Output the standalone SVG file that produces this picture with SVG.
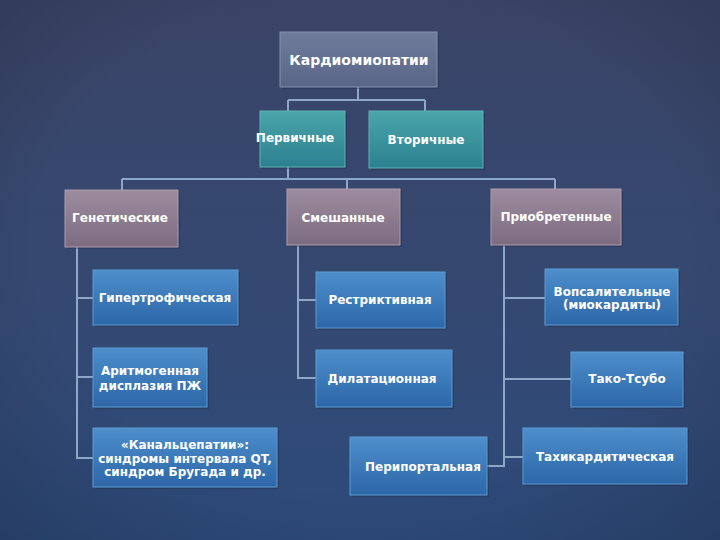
<svg xmlns="http://www.w3.org/2000/svg" width="720" height="540" viewBox="0 0 720 540">
<defs>
<linearGradient id="bg" x1="0" y1="0" x2="0" y2="1">
<stop offset="0" stop-color="#3a4467"/>
<stop offset="0.5" stop-color="#354870"/>
<stop offset="1" stop-color="#2e4b7b"/>
</linearGradient>
<radialGradient id="vig" cx="0.5" cy="0.45" r="0.75">
<stop offset="0.6" stop-color="#000" stop-opacity="0"/>
<stop offset="1" stop-color="#000" stop-opacity="0.18"/>
</radialGradient>
<linearGradient id="gRoot" x1="0" y1="0" x2="0" y2="1">
<stop offset="0" stop-color="#6f7c9c"/>
<stop offset="1" stop-color="#5a6688"/>
</linearGradient>
<linearGradient id="gTeal" x1="0" y1="0" x2="0" y2="1">
<stop offset="0" stop-color="#4aa5aa"/>
<stop offset="1" stop-color="#2c8190"/>
</linearGradient>
<linearGradient id="gMauve" x1="0" y1="0" x2="0" y2="1">
<stop offset="0" stop-color="#9d8c9e"/>
<stop offset="1" stop-color="#7d6c80"/>
</linearGradient>
<linearGradient id="gBlue" x1="0" y1="0" x2="0" y2="1">
<stop offset="0" stop-color="#4d8ecb"/>
<stop offset="1" stop-color="#2d67a8"/>
</linearGradient>
</defs>
<style>
.box{stroke-width:1;}
.root{fill:url(#gRoot);stroke:#8592b0;}
.teal{fill:url(#gTeal);stroke:#5fb3b8;}
.mauve{fill:url(#gMauve);stroke:#ad9cad;}
.blue{fill:url(#gBlue);stroke:#5c9bd3;}
.sh{fill:#1a2540;opacity:0.3;}
text{font-family:"DejaVu Sans","Liberation Sans",sans-serif;font-weight:bold;font-size:12px;fill:#ffffff;text-anchor:middle;dominant-baseline:central;}
.big{font-size:14px;}
.conn path{fill:none;stroke:#8ea6c8;stroke-width:2;}
</style>
<rect width="720" height="540" fill="url(#bg)"/>
<rect width="720" height="540" fill="url(#vig)"/>

<g class="conn" id="connectors">
<path d="M358,87 V100 M288,100 H425 M288,100 V111 M425,100 V111"/>
<path d="M288,167 V179 M122,179 H555 M122,179 V190 M347,179 V189 M555,179 V189"/>
<path d="M77,247 V458 H93 M77,298 H93 M77,377 H93"/>
<path d="M298,245 V378 H316 M298,300 H316"/>
<path d="M504,245 V466 H487 M504,298 H545 M504,379 H571 M504,457 H523"/>
</g>

<g id="root">
<rect class="sh" x="282" y="34" width="157" height="55"/>
<rect class="box root" x="280" y="32" width="157" height="55"/>
<text class="big" x="359" y="60">Кардиомиопатии</text>
</g>
<g id="primary">
<rect class="sh" x="262" y="113" width="85" height="56"/>
<rect class="box teal" x="260" y="111" width="85" height="56"/>
<text x="295" y="138">Первичные</text>
</g>
<g id="secondary">
<rect class="sh" x="371" y="113" width="114" height="57"/>
<rect class="box teal" x="369" y="111" width="114" height="57"/>
<text x="426" y="140">Вторичные</text>
</g>
<g id="genetic">
<rect class="sh" x="67" y="192" width="113" height="57"/>
<rect class="box mauve" x="65" y="190" width="113" height="57"/>
<text x="120" y="218">Генетические</text>
</g>
<g id="mixed">
<rect class="sh" x="289" y="191" width="113" height="56"/>
<rect class="box mauve" x="287" y="189" width="113" height="56"/>
<text x="343" y="218">Смешанные</text>
</g>
<g id="acquired">
<rect class="sh" x="493" y="191" width="130" height="56"/>
<rect class="box mauve" x="491" y="189" width="130" height="56"/>
<text x="556" y="217">Приобретенные</text>
</g>
<g id="hypertrophic">
<rect class="sh" x="95" y="272" width="145" height="55"/>
<rect class="box blue" x="93" y="270" width="145" height="55"/>
<text x="165" y="298">Гипертрофическая</text>
</g>
<g id="arrhythmogenic">
<rect class="sh" x="95" y="350" width="114" height="59"/>
<rect class="box blue" x="93" y="348" width="114" height="59"/>
<text x="150" y="371">Аритмогенная</text>
<text x="150" y="386">дисплазия ПЖ</text>
</g>
<g id="channelopathies">
<rect class="sh" x="95" y="430" width="184" height="59"/>
<rect class="box blue" x="93" y="428" width="184" height="59"/>
<text x="185" y="445">«Канальцепатии»:</text>
<text x="185" y="459">синдромы интервала QT,</text>
<text x="185" y="472">синдром Бругада и др.</text>
</g>
<g id="restrictive">
<rect class="sh" x="318" y="274" width="129" height="56"/>
<rect class="box blue" x="316" y="272" width="129" height="56"/>
<text x="380" y="300">Рестриктивная</text>
</g>
<g id="dilated">
<rect class="sh" x="318" y="352" width="136" height="57"/>
<rect class="box blue" x="316" y="350" width="136" height="57"/>
<text x="382" y="379">Дилатационная</text>
</g>
<g id="periportal">
<rect class="sh" x="352" y="439" width="137" height="58"/>
<rect class="box blue" x="350" y="437" width="137" height="58"/>
<text x="423" y="467">Перипортальная</text>
</g>
<g id="inflammatory">
<rect class="sh" x="547" y="271" width="133" height="56"/>
<rect class="box blue" x="545" y="269" width="133" height="56"/>
<text x="612" y="292">Вопсалительные</text>
<text x="612" y="305">(миокардиты)</text>
</g>
<g id="takotsubo">
<rect class="sh" x="573" y="354" width="112" height="55"/>
<rect class="box blue" x="571" y="352" width="112" height="55"/>
<text x="627" y="379">Тако-Тсубо</text>
</g>
<g id="tachycardic">
<rect class="sh" x="525" y="430" width="164" height="56"/>
<rect class="box blue" x="523" y="428" width="164" height="56"/>
<text x="605" y="457">Тахикардитическая</text>
</g>
</svg>
